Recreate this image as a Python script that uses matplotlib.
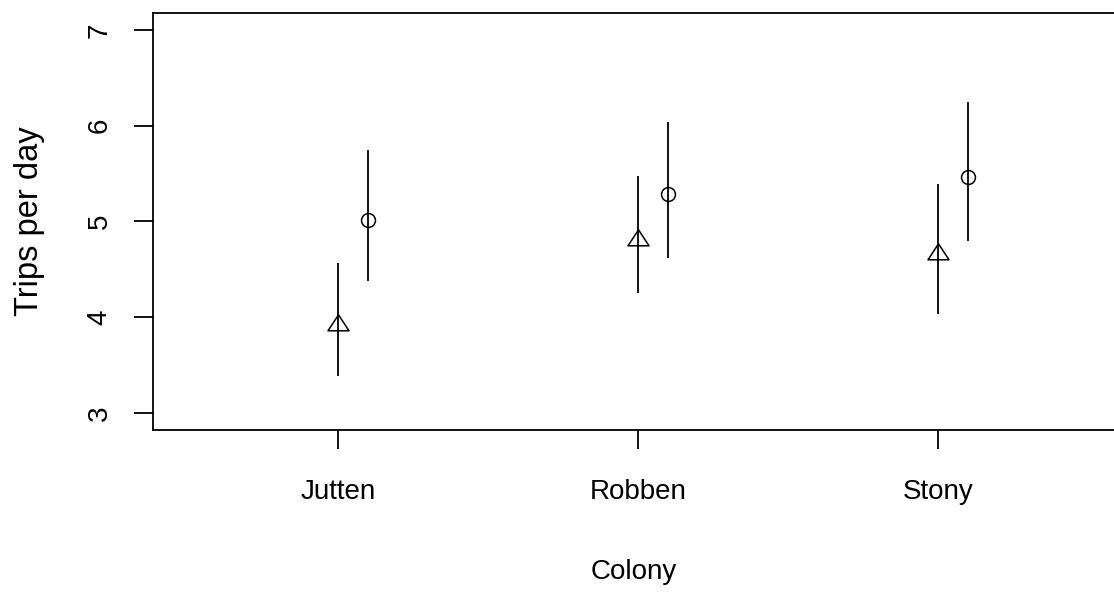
import numpy as np
from matplotlib import pyplot as plt

colonies = ["Jutten", "Robben", "Stony"]
# triangle series
tri_mean = [3.92, 4.81, 4.66]
tri_low = [3.39, 4.25, 4.03]
tri_high = [4.57, 5.47, 5.39]
# circle series
circ_mean = [5.02, 5.29, 5.46]
circ_low = [4.38, 4.62, 4.80]
circ_high = [5.75, 6.04, 6.25]
yticks = [3, 4, 5, 6, 7]

plt.rcParams['font.family'] = ['Liberation Sans', 'DejaVu Sans']

fig = plt.figure(figsize=(11.14, 5.92), dpi=100)
ax = fig.add_axes([153 / 1114, 1 - 430 / 592, 1 - 153 / 1114, (430 - 13) / 592])

x = np.arange(1, len(colonies) + 1)
xo = x + 0.1
lw = 1.3

# R pch=2 style triangle (centroid at the point)
tri = [(0, 10.7), (-10.5, -5.3), (10.5, -5.3), (0, 10.7)]

ax.vlines(x, tri_low, tri_high, color="black", lw=lw)
ax.vlines(xo, circ_low, circ_high, color="black", lw=lw)
ax.plot(x, tri_mean, ls="none", marker=tri, ms=15.4, mfc="none", mec="black", mew=1.1)
ax.plot(xo, circ_mean, ls="none", marker="o", ms=10, mfc="none", mec="black", mew=1.1)

ax.set_xlim(1 - 185 / 300, 1 + (1114 - 338) / 300)
ax.set_ylim(3 - 17 / 95.75, 7 + 17 / 95.75)

ax.set_xticks(x)
ax.set_xticklabels(colonies, fontsize=20)
ax.set_yticks(yticks)
ax.set_yticklabels([str(v) for v in yticks], fontsize=20, rotation=90, va="center")

ax.tick_params(axis="x", length=14, width=lw, pad=21)
ax.tick_params(axis="y", length=14, width=lw, pad=15)

for s in ["left", "bottom", "top"]:
    ax.spines[s].set_linewidth(lw)
ax.spines["right"].set_visible(False)

ax.set_xlabel("Colony", fontsize=20, labelpad=39)
ax.set_ylabel("Trips per day", fontsize=23.5, labelpad=30)

fig.savefig("out.png", dpi=100)
